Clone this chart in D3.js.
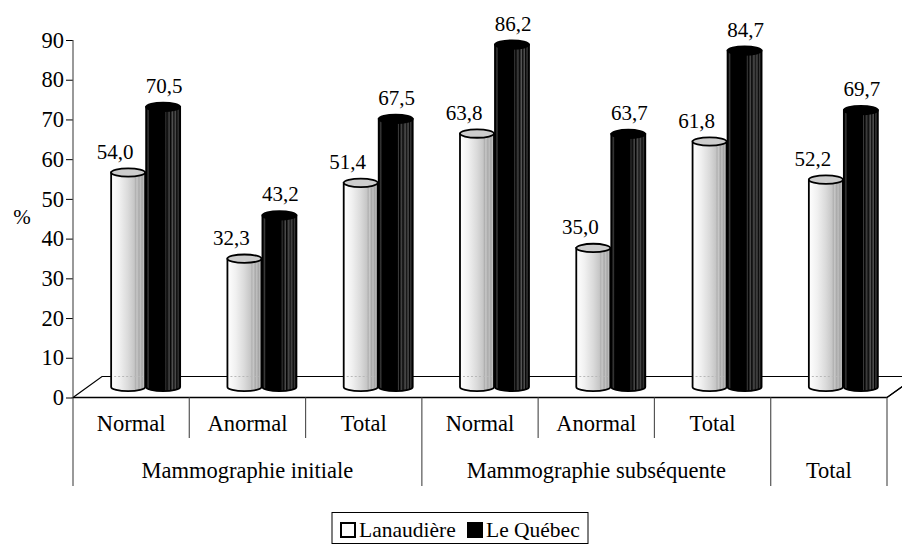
<!DOCTYPE html>
<html>
<head>
<meta charset="utf-8">
<script src="https://cdn.jsdelivr.net/npm/d3@7"></script>
<style>
  body { margin: 0; background: #fff; }
  svg { display: block; font-family: "Liberation Serif", "Times New Roman", serif; }
</style>
</head>
<body>
<div id="chart"></div>
<script>
//Données
const categories = ['Normal', 'Anormal', 'Total', 'Normal', 'Anormal', 'Total', ''];
const groupLabels = ['Mammographie initiale', 'Mammographie subséquente', 'Total'];
const groupSizes = [3, 3, 1];
const lanaudiere = [54.0, 32.3, 51.4, 63.8, 35.0, 61.8, 52.2];
const quebec = [70.5, 43.2, 67.5, 86.2, 63.7, 84.7, 69.7];
const yTicks = [0, 10, 20, 30, 40, 50, 60, 70, 80, 90];
const seriesNames = ['Lanaudière', 'Le Québec'];

const W = 902, H = 544;
const left = 73, right = 887, y0 = 397.5;
const depthX = 29, depthY = 21;   //profondeur du plancher 3D
const fmt = v => d3.format('.1f')(v).replace('.', ',');

const svg = d3.select('#chart').append('svg')
    .attr('width', W).attr('height', H);

const defs = svg.append('defs');

//Dégradés des cylindres
function stripes(id, stops) {
    let g = defs.append('linearGradient').attr('id', id)
        .attr('x1', 0).attr('x2', 1).attr('y1', 0).attr('y2', 0);
    stops.forEach(s => g.append('stop').attr('offset', s[0]).attr('stop-color', s[1]));
}
stripes('gLight', [[0, '#ffffff'], [0.25, '#f0f0f0'], [0.5, '#dadada'], [0.68, '#c6c6c6'],
    [0.72, '#b0b0b0'], [0.76, '#c8c8c8'], [0.82, '#a8a8a8'], [0.86, '#c0c0c0'],
    [0.91, '#a4a4a4'], [0.95, '#bcbcbc'], [1, '#d0d0d0']]);
stripes('gDark', [[0, '#000'], [0.06, '#3a3a3a'], [0.1, '#000'], [0.55, '#000'],
    [0.58, '#3c3c3c'], [0.61, '#000'], [0.68, '#4a4a4a'], [0.71, '#000'],
    [0.78, '#555'], [0.81, '#111'], [0.87, '#505050'], [0.9, '#000'],
    [0.94, '#3a3a3a'], [1, '#000']]);

//Échelles
const x = d3.scaleBand().domain(d3.range(categories.length)).range([left, right]);
const y = d3.scaleLinear().domain([0, 90]).range([y0, 40]);

//Plancher 3D
svg.append('path')
    .attr('d', `M${left},${y0} L${left + depthX},${y0 - depthY} L${right + depthX},${y0 - depthY} L${right},${y0} Z`)
    .attr('fill', '#fff').attr('stroke', '#000').attr('stroke-width', 1.2);

//Axe Y
const yAxis = svg.append('g').attr('transform', `translate(${left},0)`)
    .call(d3.axisLeft(y).tickValues(yTicks).tickSize(7).tickPadding(2).tickFormat(d3.format('d')));
yAxis.select('.domain').remove();
yAxis.selectAll('line').attr('stroke', '#000');
yAxis.selectAll('text').attr('font-size', 22.5).attr('font-family', 'Liberation Serif').attr('fill', '#000');
svg.append('line').attr('x1', left).attr('x2', left).attr('y1', y(90)).attr('y2', 486)
    .attr('stroke', '#555').attr('stroke-width', 1.2);

svg.append('text').attr('x', 22).attr('y', 224).attr('text-anchor', 'middle')
    .attr('font-size', 21).text('%');

//Cylindres
const rx = 17, ry = 4.2;
function cylinder(cx, v, fillId, topFill) {
    let base = y(0) - depthY / 2, top = y(v) - depthY / 2;
    let g = svg.append('g');
    g.append('path')
        .attr('d', `M${cx - rx},${top} L${cx - rx},${base} A${rx},${ry} 0 0 0 ${cx + rx},${base} L${cx + rx},${top} Z`)
        .attr('fill', `url(#${fillId})`).attr('stroke', '#000').attr('stroke-width', 1.8);
    g.append('ellipse').attr('cx', cx).attr('cy', top).attr('rx', rx).attr('ry', ry)
        .attr('fill', topFill).attr('stroke', '#000').attr('stroke-width', 1.8);
    return top;
}

const pairCenter = i => x(i) + x.bandwidth() / 2 + depthX / 2;

lanaudiere.forEach((v, i) => {
    let cx = pairCenter(i) - 17.5;
    let top = cylinder(cx, v, 'gLight', '#cdcdcd');
    //ligne pointillée du fond, visible à travers les cylindres clairs
    svg.append('line').attr('x1', cx - rx + 3).attr('x2', cx + rx - 2)
        .attr('y1', y0 - depthY).attr('y2', y0 - depthY)
        .attr('stroke', '#b8b8b8').attr('stroke-dasharray', '2,2').attr('stroke-width', 1);
    svg.append('text').attr('x', cx - 13).attr('y', top - 14).attr('text-anchor', 'middle')
        .attr('font-size', 21).text(fmt(v));
});

quebec.forEach((v, i) => {
    let cx = pairCenter(i) + 17.5;
    let top = cylinder(cx, v, 'gDark', '#000');
    svg.append('text').attr('x', cx + 1).attr('y', top - 14).attr('text-anchor', 'middle')
        .attr('font-size', 21).text(fmt(v));
});

//Axe X (tableau des catégories)
svg.append('line').attr('x1', left).attr('x2', right).attr('y1', y0).attr('y2', y0)
    .attr('stroke', '#000').attr('stroke-width', 1.5);

categories.forEach((c, i) => {
    svg.append('text').attr('x', x(i) + x.bandwidth() / 2).attr('y', 431)
        .attr('text-anchor', 'middle').attr('font-size', 22.5).text(c);
});

let acc = 0;
let bounds = [0];
groupSizes.forEach(s => { acc += s; bounds.push(acc); });

//Séparateurs
d3.range(1, categories.length + 1).forEach(i => {
    let isGroup = bounds.includes(i) || i === categories.length;
    let xx = i === categories.length ? right : x(i);
    svg.append('line').attr('x1', xx).attr('x2', xx).attr('y1', y0)
        .attr('y2', isGroup ? 486 : 438)
        .attr('stroke', '#555').attr('stroke-width', 1.2);
});
svg.append('line').attr('x1', right).attr('x2', right + depthX)
    .attr('y1', y0).attr('y2', y0 - depthY).attr('stroke', '#000').attr('stroke-width', 1.2);

groupLabels.forEach((g, k) => {
    let x1 = x(bounds[k]);
    let x2 = bounds[k + 1] === categories.length ? right : x(bounds[k + 1]);
    svg.append('text').attr('x', (x1 + x2) / 2).attr('y', 478)
        .attr('text-anchor', 'middle').attr('font-size', 22.5).text(g);
});

//Légende
const legend = svg.append('g');
legend.append('rect').attr('x', 332).attr('y', 512.5).attr('width', 256).attr('height', 31)
    .attr('fill', '#fff').attr('stroke', '#000').attr('stroke-width', 1);
const legX = [341, 468];
seriesNames.forEach((s, i) => {
    legend.append('rect').attr('x', legX[i]).attr('y', 523).attr('width', 14).attr('height', 14)
        .attr('fill', i === 0 ? '#fff' : '#000').attr('stroke', '#000').attr('stroke-width', 2);
    legend.append('text').attr('x', legX[i] + 18).attr('y', 537)
        .attr('font-size', 21.5).text(s);
});
</script>
</body>
</html>
